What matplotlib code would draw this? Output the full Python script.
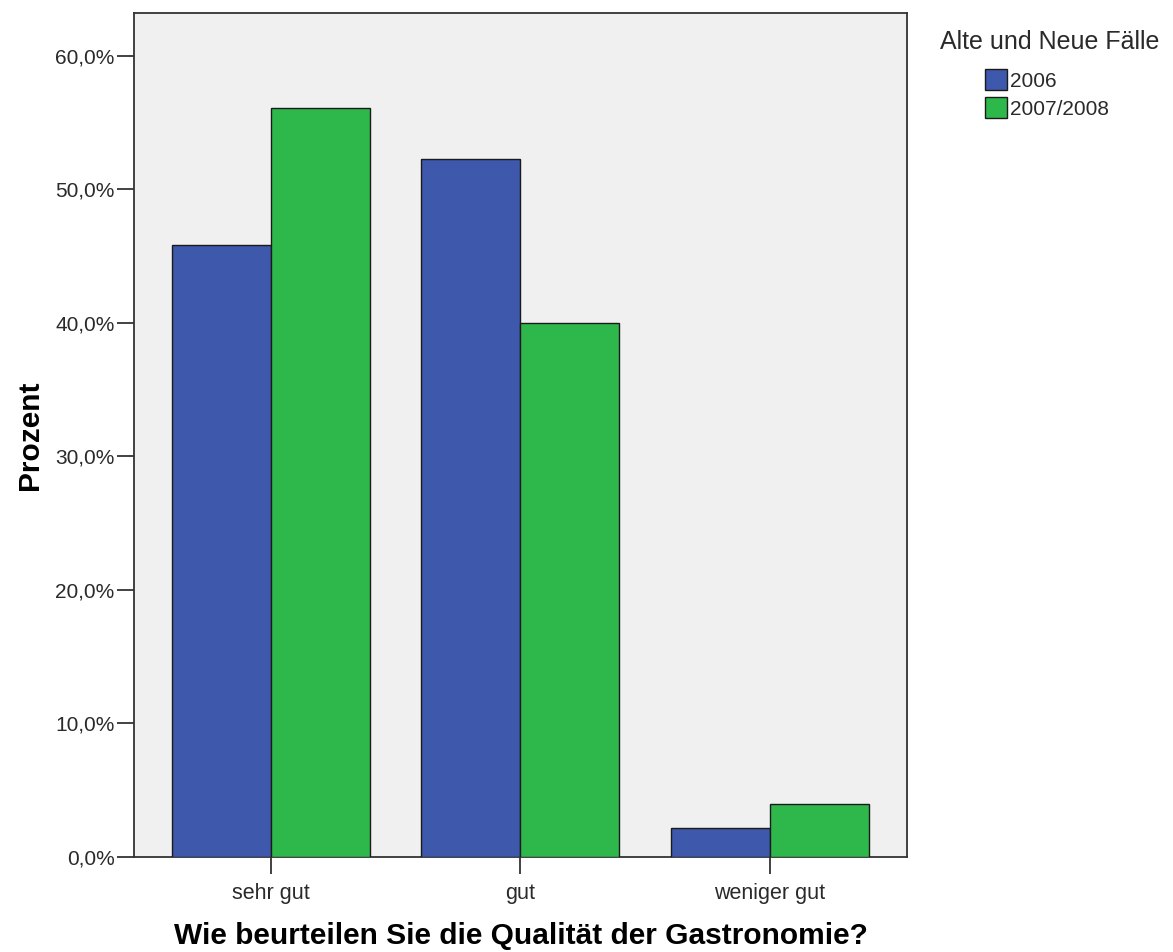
import matplotlib
matplotlib.use("Agg")
import matplotlib.pyplot as plt
import numpy as np

plt.rcParams['font.family'] = ['Liberation Sans', 'DejaVu Sans']

categories = ["sehr gut", "gut", "weniger gut"]
series_names = ["2006", "2007/2008"]
values_2006 = [45.8, 52.3, 2.2]
values_2007 = [56.1, 40.0, 4.0]
y_ticks = [0, 10, 20, 30, 40, 50, 60]
y_tick_labels = ["0,0%", "10,0%", "20,0%", "30,0%", "40,0%", "50,0%", "60,0%"]
legend_title = "Alte und Neue Fälle"

colors = ["#3E58AC", "#2EB84B"]

W, H = 1173, 952
fig = plt.figure(figsize=(W / 100, H / 100), dpi=100)
ax = fig.add_axes([0.1142, 0.0998, 0.6590, 0.8866])
ax.set_facecolor("#F0F0F0")

x = np.arange(len(categories))
w = 0.397
ax.bar(x - w/2, values_2006, width=w, color=colors[0], edgecolor="#1a1a1a", linewidth=1.0, label=series_names[0], zorder=3)
ax.bar(x + w/2, values_2007, width=w, color=colors[1], edgecolor="#1a1a1a", linewidth=1.0, label=series_names[1], zorder=3)

ax.set_xlim(-0.55, 2.55)
ax.set_ylim(0, 63.2)
ax.set_yticks(y_ticks)
ax.set_yticklabels(y_tick_labels)
ax.set_xticks(x)
ax.set_xticklabels(categories)

for s in ax.spines.values():
    s.set_color("#333333")
    s.set_linewidth(1.3)

ax.tick_params(axis='y', length=12, width=1.3, color="#333333", labelsize=15, labelcolor="#2a2a2a", pad=2)
ax.tick_params(axis='x', length=12, width=1.3, color="#333333", labelsize=15.5, labelcolor="#2a2a2a", pad=7)

ax.set_ylabel("Prozent", fontsize=21.5, fontweight='bold', labelpad=8)
ax.set_xlabel("Wie beurteilen Sie die Qualität der Gastronomie?", fontsize=21.5, fontweight='bold', labelpad=13)

fig.text(1050 / W, 1 - 42 / H, legend_title, ha='center', va='center', fontsize=18, color="#2a2a2a")
leg = ax.legend(loc='upper left', bbox_to_anchor=(985 / W, 1 - 69 / H), bbox_transform=fig.transFigure,
                frameon=False, fontsize=15, borderpad=0, borderaxespad=0,
                handlelength=1.06, handleheight=1.18, handletextpad=0.15, labelspacing=0.31)
for h in leg.legend_handles:
    h.set_edgecolor("#1a1a1a")
for t in leg.get_texts():
    t.set_color("#2a2a2a")

fig.savefig("out.png", dpi=100, facecolor="white")
